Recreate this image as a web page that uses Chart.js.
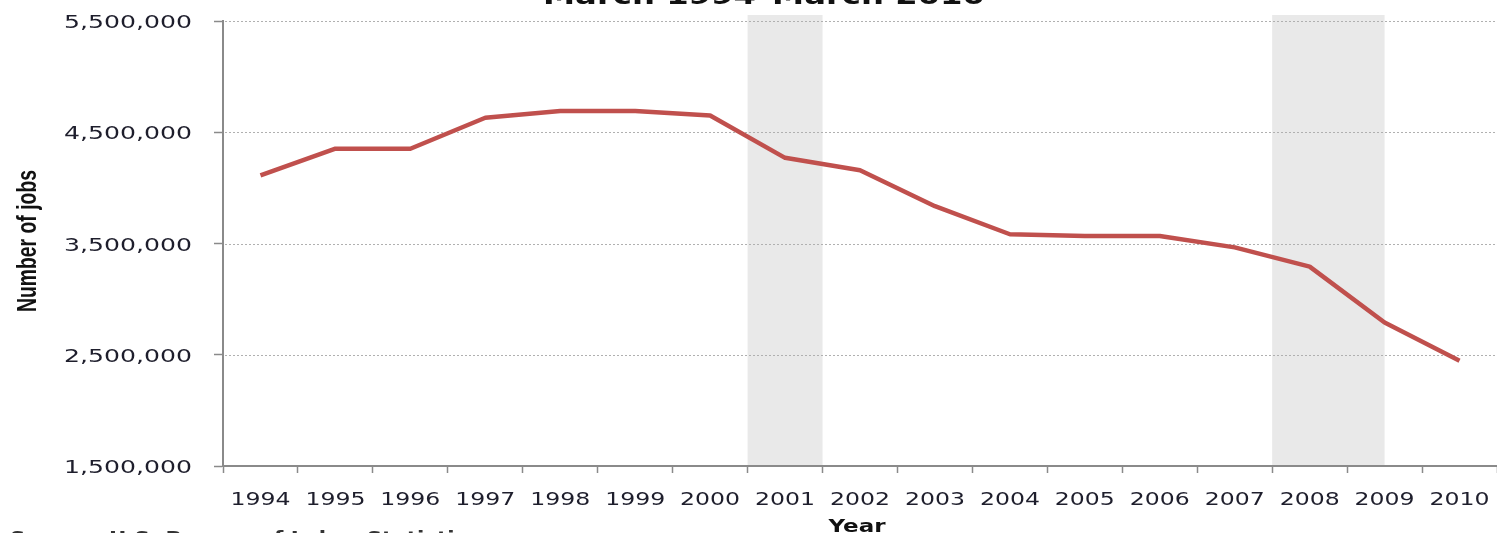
<!DOCTYPE html>
<html>
<head>
<meta charset="utf-8">
<script src="https://cdn.jsdelivr.net/npm/chart.js@4.4.1/dist/chart.umd.min.js"></script>
<style>
html,body{margin:0;padding:0;background:#fff;overflow:hidden}
#wrap{width:1497px;height:533px;position:relative}
canvas{display:block}
</style>
</head>
<body>
<div id="wrap"><canvas id="c" width="1497" height="533"></canvas></div>
<script>
// ---- data ----
const years = ['1994','1995','1996','1997','1998','1999','2000','2001','2002','2003','2004','2005','2006','2007','2008','2009','2010'];
const jobs = [4113000, 4352000, 4352000, 4630000, 4690000, 4690000, 4650000, 4270000, 4158000, 3835000, 3583000, 3568000, 3568000, 3465000, 3292000, 2790000, 2447000];
const yTicks = [1500000, 2500000, 3500000, 4500000, 5500000];
const yTickLabels = ['1,500,000', '2,500,000', '3,500,000', '4,500,000', '5,500,000'];
const recessions = [[2001, 2002], [2008, 2009.5]]; // shaded periods (year fractions)
const titleText = 'March 1994\u2013March 2010';
const xTitle = 'Year';
const yTitle = 'Number of jobs';
const sourceText = 'Source: U.S. Bureau of Labor Statistics';

const TXT = '#1e1e2c';
const AXIS = '#8a8a8a';

function drawStretched(ctx, text, x, y, font, opts) {
  ctx.save();
  ctx.font = font;
  ctx.fillStyle = opts.color || TXT;
  ctx.textBaseline = opts.baseline || 'alphabetic';
  ctx.textAlign = opts.align || 'left';
  let sx = opts.sx || 1;
  if (opts.width) sx = opts.width / ctx.measureText(text).width;
  ctx.translate(x, y);
  if (opts.rotate) ctx.rotate(opts.rotate);
  ctx.scale(sx, 1);
  ctx.fillText(text, 0, 0);
  ctx.restore();
}

const decorPlugin = {
  id: 'decor',
  beforeDatasetsDraw(chart) {
    const ctx = chart.ctx, xs = chart.scales.x, ys = chart.scales.y, ca = chart.chartArea;
    const w = (ca.right - ca.left) / years.length;
    const x0 = xs.getPixelForValue(0) - w / 2;
    const firstYear = parseInt(years[0], 10);
    ctx.save();
    ctx.fillStyle = '#e9e9e9';
    recessions.forEach(([a, b]) => {
      const l = x0 + (a - firstYear) * w;
      const r = x0 + (b - firstYear) * w;
      ctx.fillRect(l, ca.top - 6, r - l, ca.bottom - ca.top + 5);
    });
    ctx.restore();
    // dotted gridlines
    ctx.save();
    ctx.strokeStyle = '#b0b0b0';
    ctx.lineWidth = 1;
    ctx.setLineDash([2, 2]);
    yTicks.forEach(v => {
      if (v === ys.min) return;
      const y = Math.round(ys.getPixelForValue(v)) + 0.5;
      ctx.beginPath();
      ctx.moveTo(ca.left + 2, y);
      ctx.lineTo(ca.right, y);
      ctx.stroke();
    });
    ctx.restore();
  },
  afterDraw(chart) {
    const ctx = chart.ctx, xs = chart.scales.x, ys = chart.scales.y;
    // y tick labels
    yTicks.forEach((v, i) => {
      const y = ys.getPixelForValue(v);
      drawStretched(ctx, yTickLabels[i], 192, y + 7, '18px "DejaVu Sans"', {align: 'right', width: 128});
    });
    // x tick labels
    years.forEach((yr, i) => {
      const x = xs.getPixelForValue(i);
      drawStretched(ctx, yr, x, 505, '18px "DejaVu Sans"', {align: 'center', width: 60});
    });
    // title (cut off at top)
    drawStretched(ctx, titleText, 764, 4, 'bold 24px "DejaVu Sans"', {align: 'center', width: 442, color: '#111'});
    // x axis title
    drawStretched(ctx, xTitle, 857, 532, 'bold 18px "DejaVu Sans"', {align: 'center', width: 57, color: '#111'});
    // y axis title
    drawStretched(ctx, yTitle, 36, 241, 'bold 27px "Liberation Sans Narrow", "Liberation Sans", sans-serif', {align: 'center', width: 142, rotate: -Math.PI / 2, color: '#111'});
    // source (cut off at bottom, only glyph tops visible)
    drawStretched(ctx, sourceText, 10, 544, 'bold 18px "DejaVu Sans"', {width: 470, color: '#333'});
  }
};

new Chart(document.getElementById('c'), {
  type: 'line',
  data: {
    labels: years,
    datasets: [{
      data: jobs,
      borderColor: '#C0504D',
      borderWidth: 4.5,
      pointRadius: 0,
      tension: 0,
      borderJoinStyle: 'round',
      borderCapStyle: 'butt',
      fill: false,
      clip: false
    }]
  },
  options: {
    responsive: false,
    animation: false,
    devicePixelRatio: 1,
    layout: {padding: {top: 21, right: 0, left: 0, bottom: 0}},
    plugins: {legend: {display: false}, tooltip: {enabled: false}, title: {display: false}},
    scales: {
      x: {
        type: 'category',
        offset: true,
        grid: {offset: true, drawOnChartArea: false, drawTicks: true, tickLength: 7, tickColor: AXIS, tickWidth: 1.5, color: AXIS},
        border: {display: true, color: AXIS, width: 2},
        ticks: {display: false},
        afterFit(s) { s.height = 67; }
      },
      y: {
        min: yTicks[0],
        max: yTicks[yTicks.length - 1],
        afterBuildTicks(s) { s.ticks = yTicks.map(v => ({value: v})); },
        grid: {drawOnChartArea: false, drawTicks: true, tickLength: 9, tickColor: AXIS, tickWidth: 1.5, color: AXIS},
        border: {display: true, color: AXIS, width: 2},
        ticks: {display: false},
        afterFit(s) { s.width = 223; }
      }
    }
  },
  plugins: [decorPlugin]
});
</script>
</body>
</html>
